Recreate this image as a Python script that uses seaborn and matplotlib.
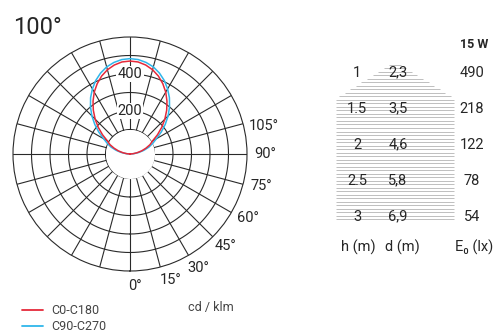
import numpy as np
import matplotlib
matplotlib.use("Agg")
import matplotlib.pyplot as plt
import seaborn as sns
from matplotlib.lines import Line2D

# ---------------- data ----------------
angles_deg = list(range(90, 275, 5))  # 90..270
c0_c180 = [0, 12, 29, 49, 69, 90, 108, 149, 191, 234, 276, 316, 354, 387, 416, 439, 456, 467,
           470,
           467, 456, 439, 416, 387, 354, 316, 276, 234, 191, 149, 108, 90, 69, 49, 29, 12, 0]
c90_c270 = [0, 16, 37, 59, 82, 103, 132, 173, 216, 259, 300, 339, 374, 406, 433, 455, 470, 480,
            483,
            480, 470, 455, 433, 406, 374, 339, 300, 259, 216, 173, 132, 103, 82, 59, 37, 16, 0]
ring_values = [100, 200, 300, 400, 500, 600]
ring_labels = [200, 400]
angle_ticks = [0, 15, 30, 45, 60, 75, 90, 105]
series_names = ["C0-C180", "C90-C270"]

heights = [1, 1.5, 2, 2.5, 3]
height_labels = ["1", "1.5", "2", "2.5", "3"]
diameters = ["2,3", "3,5", "4,6", "5,8", "6,9"]
illuminance = [490, 218, 122, 78, 54]
power_label = "15 W"
beam_label = "100°"
unit_label = "cd / klm"

RED = "#e52a3a"
BLUE = "#2fb6ea"
GRID = "#2a2a2a"
TXT = "#262626"

sns.set_theme(style="white")
plt.rcParams["font.family"] = ["Roboto", "DejaVu Sans"]

W, H = 496, 332
fig = plt.figure(figsize=(W / 100, H / 100), dpi=100)

# polar axes: center (130,154), radius 117 px
cx, cy, R = 130, 154, 117
ax = fig.add_axes([(cx - R) / W, (H - cy - R) / H, 2 * R / W, 2 * R / H], projection="polar")


def fwd(v):
    v = np.asarray(v, dtype=float)
    return np.where(v < 100, v * 0.245, 6 + 0.185 * v)


def inv(p):
    p = np.asarray(p, dtype=float)
    return np.where(p < 24.5, p / 0.245, (p - 6) / 0.185)


ax.set_theta_zero_location("S")
ax.set_theta_direction(1)
ax.set_rscale("function", functions=(fwd, inv))
ax.set_ylim(0, 600)
ax.set_xticks([])
ax.set_yticks([])
ax.grid(False)
ax.set_facecolor("white")
ax.spines["polar"].set_color(GRID)
ax.spines["polar"].set_linewidth(0.8)

full = np.linspace(0, 2 * np.pi, 721)
for rv in ring_values[:-1]:
    ax.plot(full, np.full_like(full, rv), color=GRID, lw=0.8, zorder=1)
for a in range(0, 360, 15):
    t = np.deg2rad(a)
    ax.plot([t, t], [ring_values[0], ring_values[-1]], color=GRID, lw=0.8, zorder=1)
# white hole
ax.fill_between(full, 0, ring_values[0], color="white", zorder=2, lw=0)

th = np.deg2rad(angles_deg)
sns.lineplot(x=th, y=c90_c270, ax=ax, color=BLUE, lw=1.1, sort=False, zorder=3, legend=False)
sns.lineplot(x=th, y=c0_c180, ax=ax, color=RED, lw=1.1, sort=False, zorder=4, legend=False)

for rv in ring_labels:
    ax.text(np.pi, rv, str(rv), ha="center", va="center", fontsize=10.5, color=TXT, zorder=5,
            bbox=dict(boxstyle="square,pad=0.08", fc="white", ec="none"))

offs = {105: -3, 90: 0, 75: 1.5, 60: 1.5, 45: 1, 30: 1, 15: 3, 0: 2}
rpx = {105: 137, 90: 135, 75: 135, 60: 134, 45: 133, 30: 133, 15: 132, 0: 132}
for a in angle_ticks:
    ax.text(np.deg2rad(a + offs[a]), inv(rpx[a]), f"{a}°", ha="center", va="center",
            fontsize=10.5, color=TXT, clip_on=False)

fig.text(13 / W, 1 - 27 / H, beam_label, ha="left", va="center", fontsize=17, color=TXT)
fig.text(188 / W, 1 - 307 / H, unit_label, ha="left", va="center", fontsize=9, color="#444444")

handles = [Line2D([], [], color=RED, lw=1.3), Line2D([], [], color=BLUE, lw=1.3)]
fig.legend(handles, series_names, loc="upper left", bbox_to_anchor=(16 / W, 1 - 298 / H),
           frameon=False, fontsize=9, handlelength=1.65, handletextpad=0.7,
           labelspacing=0.25, borderpad=0, labelcolor="#444444")

# ---------------- table ----------------
x0, y0, tw, th_ = 300, 30, 196, 260
ax2 = fig.add_axes([x0 / W, (H - y0 - th_) / H, tw / W, th_ / H])
ax2.set_xlim(0, tw)
ppm = 72.0  # px per metre
ax2.set_ylim(1 + (y0 + th_ - 72.7) / ppm, 1 - (72.7 - y0) / ppm)
ax2.axis("off")

apex_h = 1 - (72.7 - 61.5) / ppm
bottom_h = 1 + (221.7 - 72.7) / ppm
step = 3.5 / ppm
cxr, half_max, slope = 95, 59, 1.6
yy = apex_h + step
while yy <= bottom_h + 1e-9:
    half = min(half_max, slope * (yy - apex_h) * ppm)
    ax2.hlines(yy, cxr - half, cxr + half, color="#b4b4b4", lw=0.6, zorder=1)
    yy += step

col_h, col_d, col_e = 57, 98, 172
for h, hl, d, e in zip(heights, height_labels, diameters, illuminance):
    ax2.text(col_h, h, hl, ha="center", va="center", fontsize=10.5, color=TXT, zorder=3)
    ax2.text(col_d, h, d, ha="center", va="center", fontsize=10.5, color=TXT, zorder=3)
    ax2.text(col_e, h, str(e), ha="center", va="center", fontsize=10.5, color=TXT, zorder=3)

hdr_h = 1 + (247.3 - 72.7) / ppm
ax2.text(col_h + 1, hdr_h, "h (m)", ha="center", va="center", fontsize=10.5, color=TXT)
ax2.text(col_d + 4, hdr_h, "d (m)", ha="center", va="center", fontsize=10.5, color=TXT)
ax2.text(col_e + 2, hdr_h, "E₀ (lx)", ha="center", va="center", fontsize=10.5, color=TXT,
         family=["Roboto", "DejaVu Sans"])
ax2.text(188, 1 - (72.7 - 45) / ppm, power_label, ha="right", va="center", fontsize=9,
         fontweight="bold", color=TXT)

fig.savefig("out.png", dpi=100, facecolor="white")
